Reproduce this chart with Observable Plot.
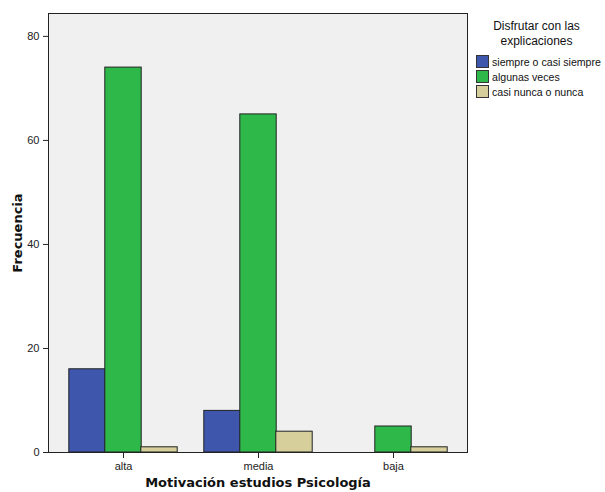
<!DOCTYPE html>
<html><head><meta charset="utf-8">
<script src="https://cdn.jsdelivr.net/npm/d3@7"></script>
<script src="https://cdn.jsdelivr.net/npm/@observablehq/plot@0.6"></script>
<style>
body{margin:0;background:#fff;font-family:"Liberation Sans",Arial,sans-serif;}
#wrap{position:relative;width:605px;height:492px;overflow:hidden;}
#legend{position:absolute;left:476px;top:19px;width:140px;font-size:10.6px;color:#111;white-space:nowrap;}
#legend .title{text-align:center;font-size:12px;line-height:15px;width:129px;margin-left:-4px;margin-bottom:5px;}
#legend .item{display:flex;align-items:center;height:15px;}
#legend .sw{width:11px;height:11px;border:1px solid #333;margin-right:3px;flex:none;}
</style></head>
<body><div id="wrap"><div id="legend"></div></div>
<script>
const categories = ["alta", "media", "baja"];
const series = ["siempre o casi siempre", "algunas veces", "casi nunca o nunca"];
const siempre = [16, 8, 0];
const algunas = [74, 65, 5];
const casiNunca = [1, 4, 1];
const yTicks = [0, 20, 40, 60, 80];
const colors = ["#3e56ab", "#2fb84a", "#d6cf9c"];
const legendTitle = ["Disfrutar con las", "explicaciones"];

const values = [siempre, algunas, casiNunca];
const data = [];
series.forEach((s, j) => categories.forEach((m, i) => data.push({m, s, v: values[j][i]})));

const chart = Plot.plot({
  width: 605, height: 492,
  marginLeft: 48, marginRight: 138, marginTop: 13, marginBottom: 40,
  style: {fontFamily: "Liberation Sans, Arial, sans-serif", fontSize: "11px", color: "#222", background: "transparent"},
  x: {domain: categories, padding: 0.1, label: null, tickSize: 6, tickPadding: 4},
  y: {domain: [0, 84.4], ticks: yTicks, label: null, tickSize: 5},
  color: {domain: series, range: colors},
  marks: [
    Plot.frame({fill: "#f0f0f0", stroke: null}),
    ...series.map((s, j) => Plot.barY(data.filter(d => d.s === s), {
      x: "m", y: "v", fill: "s", stroke: "#222", strokeWidth: 1,
      dx: (j - 1) * 36, insetLeft: 42.8, insetRight: 42.8
    })),
    Plot.frame({stroke: "#222"}),
    Plot.text(["Frecuencia"], {frameAnchor: "left", textAnchor: "middle", dx: -31, rotate: -90, fontWeight: "bold", fontSize: 13, fontFamily: "DejaVu Sans, sans-serif", fill: "#111"}),
    Plot.text(["Motivación estudios Psicología"], {frameAnchor: "bottom", dy: 34, fontWeight: "bold", fontSize: 13, fontFamily: "DejaVu Sans, sans-serif", fill: "#111"})
  ]
});
document.getElementById("wrap").appendChild(chart);

const lg = document.getElementById("legend");
lg.innerHTML = `<div class="title">${legendTitle.join("<br>")}</div>` +
  series.map((s, j) => `<div class="item"><span class="sw" style="background:${colors[j]}"></span>${s}</div>`).join("");
</script></body></html>
